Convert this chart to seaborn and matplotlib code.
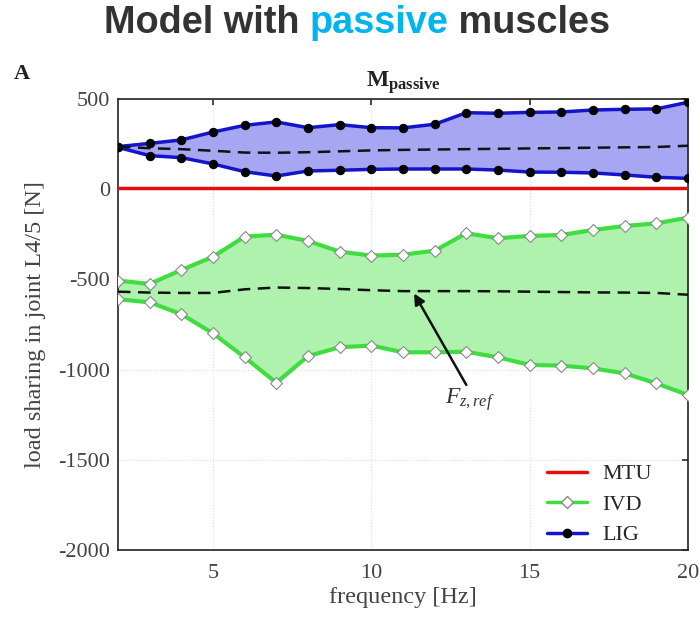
import numpy as np
import pandas as pd
import matplotlib
matplotlib.use("Agg")
import matplotlib.pyplot as plt
import seaborn as sns
from matplotlib.lines import Line2D

# ---- data ----
freq = [2, 3, 4, 5, 6, 7, 8, 9, 10, 11, 12, 13, 14, 15, 16, 17, 18, 19, 20]
mtu = [5] * 19
lig_upper = [236, 254, 273, 317, 354, 373, 341, 358, 341, 340, 360, 424, 421, 426, 428, 439, 443, 445, 482]
lig_lower = [232, 186, 175, 140, 97, 73, 101, 105, 110, 112, 112, 112, 106, 95, 94, 90, 79, 66, 60]
lig_mean = [236, 227, 222, 213, 203, 202, 205, 210, 215, 218, 220, 222, 224, 226, 228, 230, 232, 234, 241]
ivd_upper = [-507, -525, -448, -374, -263, -252, -287, -346, -368, -363, -341, -244, -272, -259, -254, -226, -204, -189, -158]
ivd_lower = [-610, -627, -693, -799, -932, -1073, -925, -876, -867, -904, -904, -901, -932, -974, -978, -993, -1021, -1076, -1141]
ivd_mean = [-568, -573, -575, -575, -555, -545, -548, -553, -560, -565, -565, -565, -566, -568, -570, -572, -573, -575, -585]

yticks = [500, 0, -500, -1000, -1500, -2000]
xticks = [5, 10, 15, 20]
legend_labels = ["MTU", "IVD", "LIG"]

sns.set_theme(style="white")
plt.rcParams["font.family"] = ["Liberation Serif", "DejaVu Serif"]
plt.rcParams["mathtext.fontset"] = "custom"
plt.rcParams["mathtext.rm"] = "Liberation Serif"
plt.rcParams["mathtext.it"] = "Liberation Serif:italic"
plt.rcParams["mathtext.bf"] = "Liberation Serif:bold"

W, H = 700, 617
fig = plt.figure(figsize=(W / 100, H / 100), dpi=100)
ax = fig.add_axes([118 / W, 1 - 550 / H, 570 / W, 451 / H])

df = pd.DataFrame({
    "freq": freq, "mtu": mtu,
    "lig_upper": lig_upper, "lig_lower": lig_lower, "lig_mean": lig_mean,
    "ivd_upper": ivd_upper, "ivd_lower": ivd_lower, "ivd_mean": ivd_mean,
})

blue = "#1414cc"
green = "#40dd40"
red = "#e01010"

ax.fill_between(df["freq"], df["lig_lower"], df["lig_upper"], color="#a6a6f2", lw=0, zorder=1)
ax.fill_between(df["freq"], df["ivd_lower"], df["ivd_upper"], color="#aef2ae", lw=0, zorder=1)

ivd_kw = dict(color=green, lw=3, marker="D", markersize=6, markerfacecolor="white",
              markeredgecolor="#888888", markeredgewidth=0.8, zorder=3, label="_nolegend_")
lig_kw = dict(color=blue, lw=2.5, marker="o", markersize=6, markerfacecolor="black",
              markeredgecolor="black", zorder=3, label="_nolegend_")
mean_kw = dict(color="#111111", lw=1.8, linestyle=(0, (5, 3)), zorder=3, label="_nolegend_")

sns.lineplot(data=df, x="freq", y="ivd_upper", ax=ax, **ivd_kw)
sns.lineplot(data=df, x="freq", y="ivd_lower", ax=ax, **ivd_kw)
sns.lineplot(data=df, x="freq", y="lig_upper", ax=ax, **lig_kw)
sns.lineplot(data=df, x="freq", y="lig_lower", ax=ax, **lig_kw)
sns.lineplot(data=df, x="freq", y="lig_mean", ax=ax, **mean_kw)
sns.lineplot(data=df, x="freq", y="ivd_mean", ax=ax, **mean_kw)
sns.lineplot(data=df, x="freq", y="mtu", ax=ax, color=red, lw=2.5, zorder=4, label="_nolegend_")

handles = [
    Line2D([], [], color=red, lw=2.5),
    Line2D([], [], color=green, lw=2.5, marker="D", markersize=6,
           markerfacecolor="white", markeredgecolor="#888888"),
    Line2D([], [], color=blue, lw=2.5, marker="o", markersize=6,
           markerfacecolor="black", markeredgecolor="black"),
]
ax.legend(handles, legend_labels, loc="lower right", frameon=False,
          fontsize=16, handlelength=1.8, handletextpad=0.7, borderpad=0,
          borderaxespad=0, labelspacing=0.45,
          bbox_to_anchor=((652 - 118) / 570, 0.01))

ax.set_xlim(2, 20)
ax.set_ylim(-2000, 500)
ax.set_xticks(xticks)
ax.set_yticks(yticks)
ax.set_xticklabels([str(t) for t in xticks], fontsize=16)
ax.set_yticklabels([str(t) for t in yticks], fontsize=16)
ax.tick_params(direction="in", length=4, top=True, right=True, colors="#333333",
               labelcolor="#444444")
ax.tick_params(axis="x", pad=10)
ax.tick_params(axis="y", pad=5.5)
ax.grid(True, color="#dddddd", lw=0.8, linestyle=":")
for s in ax.spines.values():
    s.set_color("#222222")
    s.set_linewidth(1.2)

ax.set_xlabel("frequency [Hz]", fontsize=17.5, color="#444444", labelpad=3)
ax.set_ylabel("load sharing in joint L4/5 [N]", fontsize=17.5, color="#444444", labelpad=9)
ax.set_title(r"$\mathbf{M}_{\mathbf{passive}}$", fontsize=17, color="#222222", pad=9)

ax.annotate("", xy=(11.35, -578), xytext=(13.0, -1085),
            arrowprops=dict(arrowstyle="-|>", color="#111111", lw=1.8,
                            shrinkA=0, shrinkB=0, mutation_scale=16))
ax.text(13.1, -1165, r"$F_{z,ref}$", fontsize=17, color="#333333", ha="center", va="center")

fig.text(14 / W, 1 - 74 / H, "A", fontsize=16, fontweight="bold", color="#222222",
         va="center", ha="left")

# two-colour title
parts = [("Model with ", "#333333"), ("passive", "#00b4f0"), (" muscles", "#333333")]
fig.canvas.draw()
renderer = fig.canvas.get_renderer()
texts = []
for s, c in parts:
    t = fig.text(0, 1 - 23 / H, s, fontsize=27.3, fontweight="bold", color=c,
                 family="Liberation Sans", va="center", ha="left")
    texts.append(t)
widths = [t.get_window_extent(renderer).width for t in texts]
total = sum(widths)
cur = (357 - total / 2) / W
for t, w in zip(texts, widths):
    t.set_x(cur)
    cur += w / W

fig.savefig("out.png", dpi=100)
